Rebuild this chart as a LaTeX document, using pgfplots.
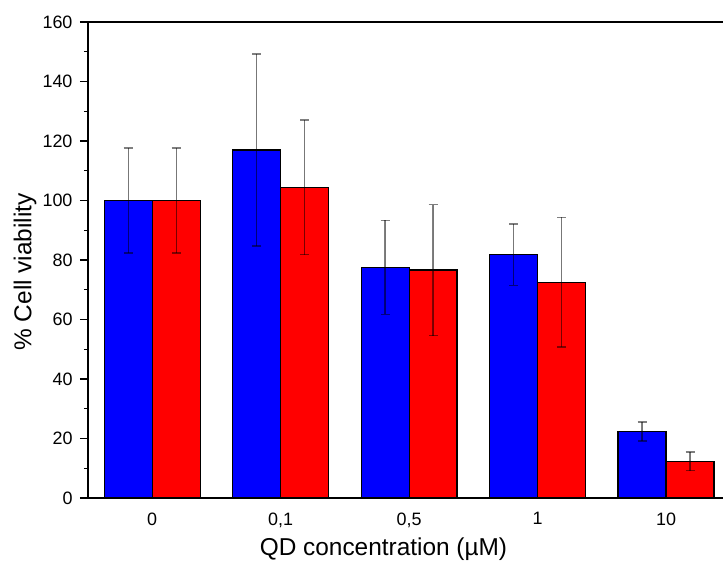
\documentclass[border=0pt]{standalone}
\usepackage{pgfplots}
\pgfplotsset{compat=1.18}
\usepackage{pgfplotstable}
\usepackage{fontspec}
\setmainfont{Liberation Sans}

% x: group index, y: mean viability, e: standard deviation
\pgfplotstableread{
x y e
0 100.0 17.6
1 117.0 32.3
2 77.5 15.8
3 81.8 10.3
4 22.4 3.2
}\seriesA
\pgfplotstableread{
x y e
0 100.0 17.6
1 104.4 22.6
2 76.6 22.0
3 72.5 21.8
4 12.3 3.1
}\seriesB

\begin{document}
\begin{tikzpicture}
\begin{axis}[
  name=ax,
  scale only axis,
  width=635bp, height=476bp,
  xmin=-0.5, xmax=4.443,
  ymin=0, ymax=160,
  axis x line=box, axis y line=left,
  axis line style={-, black, line width=1.5bp},
  ybar=0pt, bar width=0.3735,
  xtick={0,1,2,3,4},
  xticklabels={0,{0,1},{0,5},1,10},
  x tick style={draw=none},
  ytick={0,20,...,160},
  minor y tick num=1,
  ytick pos=left,
  tick align=outside,
  major tick length=8bp, minor tick length=4bp,
  y tick style={black, line width=1.2bp},
  /pgf/number format/assume math mode=true,
  tick label style={font=\fontsize{18}{21}\selectfont},
  xticklabel style={yshift=-3bp},
  yticklabel style={xshift=-4bp},
  every axis x label/.style={at={(axis cs:1.8,0)}, yshift=-51bp, anchor=center},
  every axis y label/.style={at={(axis description cs:0,0.475)}, xshift=-63bp, rotate=90, anchor=center},
  label style={font=\fontsize{24.5}{29}\selectfont},
  xlabel={QD concentration (µM)},
  ylabel={\% Cell viability},
  error bars/error bar style={black, opacity=0.5, line width=1.4bp},
  error bars/error mark options={black, opacity=0.5, line width=1.4bp, mark size=4.5bp, rotate=90},
]
\addplot[fill={rgb,255:red,0;green,0;blue,255}, draw=black, line width=1.3bp,
  error bars/.cd, y dir=both, y explicit]
  table[x=x, y=y, y error=e] {\seriesA};
\addplot[fill={rgb,255:red,255;green,0;blue,0}, draw=black, line width=1.3bp,
  error bars/.cd, y dir=both, y explicit]
  table[x=x, y=y, y error=e] {\seriesB};
\end{axis}
\pgfresetboundingbox
\path ([xshift=-88bp,yshift=-66bp]ax.south west) rectangle ([yshift=22bp]ax.north east);
\end{tikzpicture}
\end{document}
